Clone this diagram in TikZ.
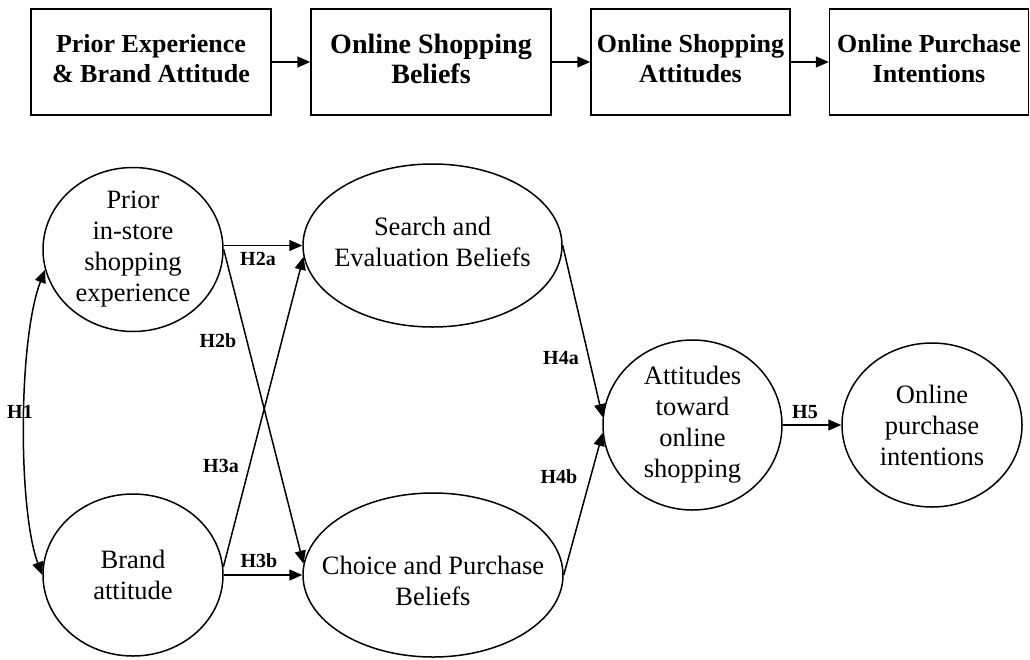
\documentclass[tikz,border=0pt]{standalone}
\usepackage{fontspec}
\setmainfont{Liberation Serif}
\usetikzlibrary{shapes.geometric,arrows.meta}
\begin{document}
\begin{tikzpicture}[x=1pt,y=-1pt,
  line width=1.5pt,
  stagebox/.style={draw,rectangle,inner sep=0pt,minimum height=106pt},
  stagetext/.style={align=center,inner sep=0pt,yshift=3pt,
    font=\fontsize{26}{30}\selectfont\bfseries},
  construct/.style={draw,ellipse,inner sep=0pt},
  ctext/.style={align=center,inner sep=0pt,font=\fontsize{26.5}{31}\selectfont},
  hyp/.style={inner sep=0pt,font=\fontsize{20}{24}\selectfont\bfseries},
  flow/.style={-{Triangle[length=13pt,width=11pt]}},
  both/.style={{Triangle[length=13pt,width=11pt]}-{Triangle[length=13pt,width=11pt]}}]
\useasboundingbox (0,0) rectangle (1030,659);

% stages of the research model
\node[stagebox,minimum width=240pt] (b1) at (151,62) {};
\node[stagetext] (b1t) at (b1.center) {Prior Experience\\\& Brand Attitude};
\node[stagebox,minimum width=240pt] (b2) at (431,62) {};
\node[stagetext,font=\fontsize{28}{30}\selectfont\bfseries] (b2t) at (b2.center) {Online Shopping\\Beliefs};
\node[stagebox,minimum width=199pt] (b3) at (690.5,62) {};
\node[stagetext] (b3t) at (b3.center) {Online Shopping\\Attitudes};
\node[stagebox,minimum width=199pt] (b4) at (929,62) {};
\node[stagetext] (b4t) at (b4.center) {Online Purchase\\Intentions};
\draw[flow] (b1) -- (b2);
\draw[flow] (b2) -- (b3);
\draw[flow] (b3) -- (b4);

% constructs
\node[construct,minimum width=180pt,minimum height=164pt] (prior) at (133,249.5) {};
\node[ctext] (priort) at (prior.center) {Prior\\in-store\\shopping\\experience};
\node[construct,minimum width=180pt,minimum height=162pt] (brand) at (133,575) {};
\node[ctext] (brandt) at (brand.center) {Brand\\attitude};
\node[construct,minimum width=259pt,minimum height=163pt] (search) at (432.5,245.5) {};
\node[ctext,yshift=4pt] (searcht) at (search.center) {Search and\\Evaluation Beliefs};
\node[construct,minimum width=260pt,minimum height=164pt] (choice) at (433,575) {};
\node[ctext,yshift=-6pt] (choicet) at (choice.center) {Choice and Purchase\\Beliefs};
\node[construct,minimum width=179pt,minimum height=170pt] (att) at (692.5,425) {};
\node[ctext] (attt) at (att.center) {Attitudes\\toward\\online\\shopping};
\node[construct,minimum width=180pt,minimum height=164pt] (opi) at (932,425) {};
\node[ctext] (opit) at (opi.center) {Online\\purchase\\intentions};

% hypothesised paths
\draw[both] (prior.193) .. controls (18,340) and (18,510) .. (brand.180);
\draw[flow] (search.west -| prior.east) -- (search.west);
\draw[flow] (prior.east) -- (choice.175);
\draw[flow] (brand.5) -- (search.185);
\draw[flow] (brand.east) -- (choice.west -| brand.east) -- (choice.west);
\draw[flow] (search.east) -- (att.175);
\draw[flow] (choice.east) -- (att.185);
\draw[flow] (att.east) -- (opi.west);

% path labels
\node[hyp] (h1) at (20,412) {H1};
\node[hyp] (h2a) at (258,259) {H2a};
\node[hyp] (h2b) at (218,341) {H2b};
\node[hyp] (h3a) at (221,466) {H3a};
\node[hyp] (h3b) at (259,561) {H3b};
\node[hyp] (h4a) at (561,358) {H4a};
\node[hyp] (h4b) at (559,477) {H4b};
\node[hyp] (h5) at (805,412) {H5};
\end{tikzpicture}
\end{document}
